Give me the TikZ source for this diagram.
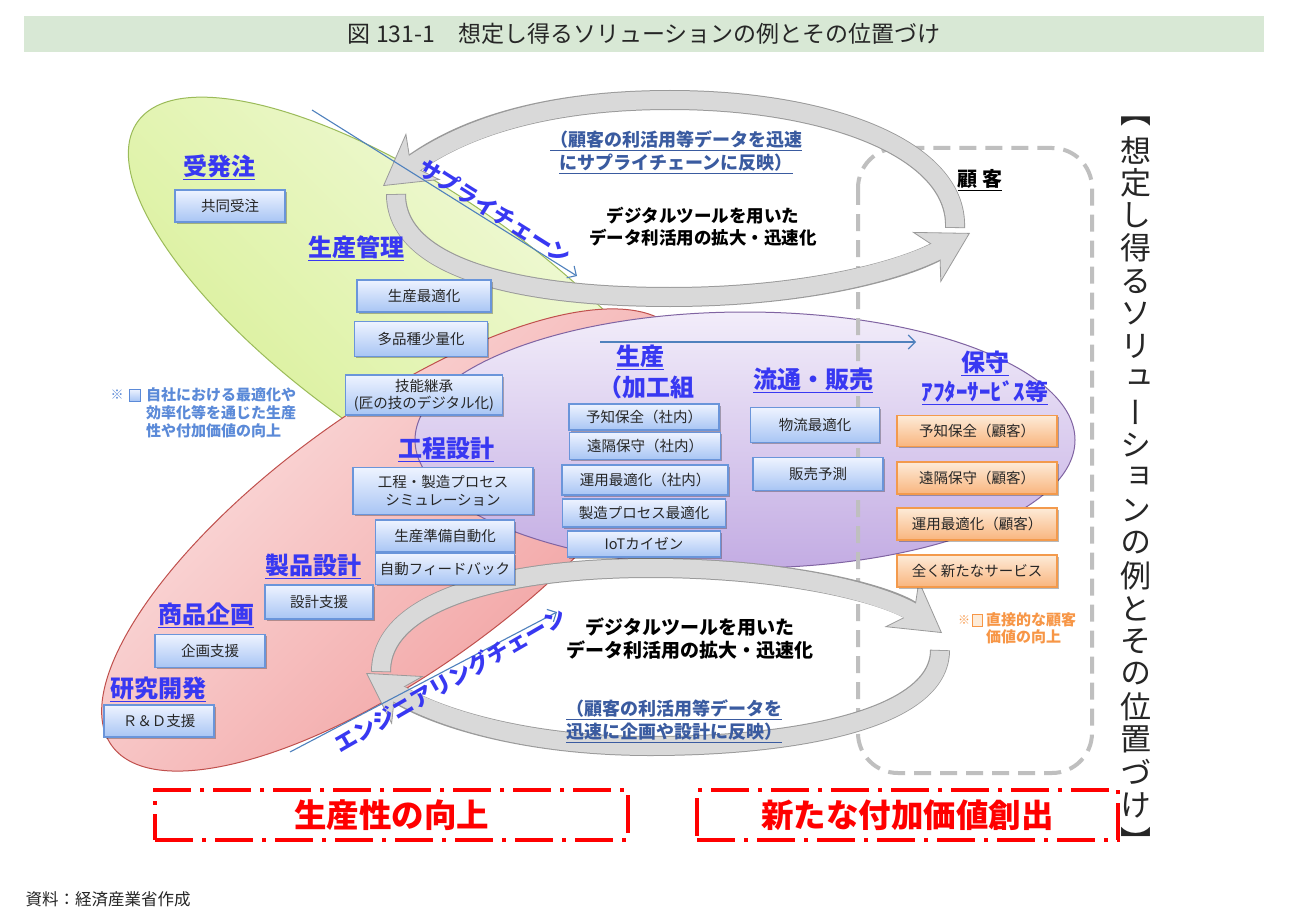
\documentclass[tikz,border=0pt]{standalone}
\usepackage{fontspec}
\setmainfont{Noto Sans CJK JP}
\newfontfamily\vfont[RawFeature=+vert]{Noto Sans CJK JP}
\usetikzlibrary{arrows.meta,shadows}
\newcommand\fsz[2]{\fontsize{#1}{#2}\selectfont}
\newcommand\hd[1]{\underline{#1}}
\definecolor{hblue}{HTML}{3838F2}
\definecolor{fbblue}{HTML}{3A5BA0}
\definecolor{noteblue}{HTML}{5B8AD8}
\definecolor{noteorange}{HTML}{F79646}
\definecolor{lineblue}{HTML}{4F81BD}
\definecolor{titlebg}{HTML}{D8E8D5}
\definecolor{bandfill}{HTML}{D9D9D9}
\definecolor{bandline}{HTML}{9A9A9A}
\definecolor{boxtop}{HTML}{EEF3FF}
\definecolor{boxbot}{HTML}{A8C5F4}
\definecolor{boxline}{HTML}{6A95DA}
\definecolor{otop}{HTML}{FDEBD8}
\definecolor{obot}{HTML}{F9B57E}
\definecolor{oline}{HTML}{F39A4C}
\definecolor{dashgray}{HTML}{BFBFBF}
\definecolor{textgray}{HTML}{262626}
\definecolor{gtop}{HTML}{F5FBE4}
\definecolor{gbot}{HTML}{D6EF90}
\definecolor{gline}{HTML}{9BBB59}
\definecolor{rtop}{HTML}{FCE6E6}
\definecolor{rbot}{HTML}{F09696}
\definecolor{rline}{HTML}{C0504D}
\definecolor{ptop}{HTML}{F2EDFA}
\definecolor{pbot}{HTML}{C3ACE3}
\definecolor{pline}{HTML}{8064A2}
\tikzset{
  bbox/.style={draw=boxline, line width=1.1pt, top color=boxtop, bottom color=boxbot,
    text=textgray, font=\fsz{14.5}{18}, inner sep=1pt, align=center,
    drop shadow={shadow xshift=1.5pt, shadow yshift=-1.8pt, opacity=0.28, fill=black}},
  obox/.style={bbox, draw=oline, top color=otop, bottom color=obot},
  hlabel/.style={text=hblue, font=\bfseries\fsz{24}{28}},
  chain/.style={text=hblue, font=\bfseries\fsz{22}{26}},
  fbtext/.style={text=fbblue, font=\bfseries\fsz{18}{23}, align=center},
  digtext/.style={text=black, font=\bfseries\fsz{17.5}{22}, align=center},
  outerband/.style={line width=20pt, draw=bandline,
    -{Stealth[length=50pt,width=58pt,inset=15pt,line width=0.8pt,fill=bandfill]}},
  innerband/.style={line width=18pt, draw=bandfill, shorten >=28pt, shorten <=0.8pt},
  thinarrow/.style={draw=lineblue, line width=1.1pt, -{Straight Barb[length=7pt,width=14pt]}},
  reddash/.style={draw=red, line width=3.5pt, dash pattern=on 38pt off 9pt on 4pt off 9pt,
    text=red, font=\bfseries\fsz{32.5}{36}},
  vtxt/.style={font=\vfont\fsz{31}{32}, text=textgray, inner sep=0pt},
  custbox/.style={draw=dashgray, line width=4pt, dash pattern=on 17pt off 9pt, rounded corners=40pt},
}
\begin{document}
\begin{tikzpicture}[x=1pt,y=-1pt]
\useasboundingbox (0,0) rectangle (1294,923);
\fill[white] (0,0) rectangle (1294,923);
% title and source
\fill[titlebg] (24,16) rectangle (1264,52);
\node[font=\fsz{23}{26}, text=textgray] (title) at (644,34) {図 131-1　想定し得るソリューションの例とその位置づけ};
\node[anchor=west, font=\fsz{16.5}{18}, text=textgray] (src) at (22,899) {資料：経済産業省作成};
% ellipses
\path[draw=gline, line width=1pt, top color=gtop, bottom color=gbot, shading angle=-45,
  rotate around={-35:(420,320)}] (420,320) ellipse [x radius=345, y radius=125];
\path[draw=rline, line width=1pt, top color=rtop, bottom color=rbot, shading angle=45,
  rotate around={36:(395,540)}] (395,540) ellipse [x radius=350, y radius=130];
\path[draw=pline, line width=1pt, top color=ptop, bottom color=pbot] (745,440) ellipse [x radius=330, y radius=128];
% customer area
\draw[custbox] (858,148) rectangle (1092,773);
\node[font=\bfseries\fsz{20}{24}, text=black] (cust) at (980,180) {\hd{顧 客}};
% big gray arrows
\coordinate (aS) at (955,228); \coordinate (aE) at (383,186);
\coordinate (bS) at (396,194); \coordinate (bE) at (970,233);
\coordinate (cS) at (381,672); \coordinate (cE) at (942,633);
\coordinate (dS) at (940,650); \coordinate (dE) at (366,673);
\draw[outerband] (aS) .. controls (958,150) and (830,100) .. (670,100) .. controls (560,100) and (470,122) .. (aE);
\draw[innerband] (aS) .. controls (958,150) and (830,100) .. (670,100) .. controls (560,100) and (470,122) .. (aE);
\draw[outerband] (bS) .. controls (396,265) and (510,297) .. (670,297) .. controls (800,297) and (900,272) .. (bE);
\draw[innerband] (bS) .. controls (396,265) and (510,297) .. (670,297) .. controls (800,297) and (900,272) .. (bE);
\draw[outerband] (cS) .. controls (381,598) and (510,568) .. (650,568) .. controls (790,568) and (890,595) .. (cE);
\draw[innerband] (cS) .. controls (381,598) and (510,568) .. (650,568) .. controls (790,568) and (890,595) .. (cE);
\draw[outerband] (dS) .. controls (940,718) and (800,746) .. (650,746) .. controls (520,746) and (430,715) .. (dE);
\draw[innerband] (dS) .. controls (940,718) and (800,746) .. (650,746) .. controls (520,746) and (430,715) .. (dE);
% thin blue arrows
\coordinate (s1) at (312,110); \coordinate (s2) at (577,276);
\coordinate (e1) at (290,752); \coordinate (e2) at (557,612);
\coordinate (p1) at (600,342); \coordinate (p2) at (916,342);
\draw[thinarrow] (s1) -- (s2);
\draw[thinarrow] (e1) -- (e2);
\draw[thinarrow] (p1) -- (p2);
\node[chain, rotate=-32] (sc) at (495,211) {サプライチェーン};
\node[chain, rotate=30] (ec) at (450,680) {エンジニアリングチェーン};
% texts in loops
\node[fbtext] (f1) at (676,152) {\hd{（顧客の利活用等データを迅速}\\\hd{にサプライチェーンに反映）}};
\node[digtext] (d1) at (703,227) {デジタルツールを用いた\\データ利活用の拡大・迅速化};
\node[digtext, font=\bfseries\fsz{19}{23}] (d2) at (690,639) {デジタルツールを用いた\\データ利活用の拡大・迅速化};
\node[fbtext] (f2) at (674,721) {\hd{（顧客の利活用等データを}\\\hd{迅速に企画や設計に反映）}};
% headings
\node[hlabel] (h1) at (219,167) {\hd{受発注}};
\node[hlabel] (h2) at (356,248) {\hd{生産管理}};
\node[hlabel] (h3) at (446,449) {\hd{工程設計}};
\node[hlabel] (h4) at (313,566) {\hd{製品設計}};
\node[hlabel] (h5) at (206,615) {\hd{商品企画}};
\node[hlabel] (h6) at (158,689) {\hd{研究開発}};
\node[hlabel] (h7) at (640,357) {\hd{生産}};
\node[hlabel] (h8) at (646,387) {（加工組};
\node[hlabel] (h9) at (813,380) {\hd{流通・販売}};
\node[hlabel] (h10) at (985,363) {\hd{保守}};
\node[hlabel, font=\bfseries\fsz{23}{26}] (h11) at (985,393) {\hd{ｱﾌﾀｰｻｰﾋﾞｽ等}};
% blue boxes
\node[bbox, minimum width=110pt, minimum height=32pt] (b1) at (230,206) {共同受注};
\node[bbox, minimum width=134pt, minimum height=32pt] (b2) at (424,296) {生産最適化};
\node[bbox, minimum width=133pt, minimum height=35pt] (b3) at (421,339) {多品種少量化};
\node[bbox, minimum width=157pt, minimum height=40pt, font=\fsz{14.5}{17}] (b4) at (424,395) {技能継承\\(匠の技のデジタル化)};
\node[bbox, minimum width=180pt, minimum height=47pt, font=\fsz{14.5}{18}] (b5) at (443,491) {工程・製造プロセス\\シミュレーション};
\node[bbox, minimum width=139pt, minimum height=32pt] (b6) at (445,536) {生産準備自動化};
\node[bbox, minimum width=139pt, minimum height=31pt] (b7) at (445,569) {自動フィードバック};
\node[bbox, minimum width=108pt, minimum height=34pt] (b8) at (319,602) {設計支援};
\node[bbox, minimum width=110pt, minimum height=33pt] (b9) at (210,651) {企画支援};
\node[bbox, minimum width=110pt, minimum height=32pt] (b10) at (159,721) {Ｒ＆Ｄ支援};
\node[bbox, minimum width=150pt, minimum height=26pt] (b11) at (644,417) {予知保全（社内）};
\node[bbox, minimum width=151pt, minimum height=27pt] (b12) at (645,446) {遠隔保守（社内）};
\node[bbox, minimum width=166pt, minimum height=30pt] (b13) at (645,480) {運用最適化（社内）};
\node[bbox, minimum width=163pt, minimum height=28pt] (b14) at (644,513) {製造プロセス最適化};
\node[bbox, minimum width=153pt, minimum height=26pt] (b15) at (644,544) {IoTカイゼン};
\node[bbox, minimum width=129pt, minimum height=35pt] (b16) at (815,425) {物流最適化};
\node[bbox, minimum width=130pt, minimum height=33pt] (b17) at (818,474) {販売予測};
% orange boxes
\node[obox, minimum width=160pt, minimum height=31pt] (o1) at (977,431) {予知保全（顧客）};
\node[obox, minimum width=160pt, minimum height=32pt] (o2) at (977,478) {遠隔保守（顧客）};
\node[obox, minimum width=160pt, minimum height=32pt] (o3) at (977,524) {運用最適化（顧客）};
\node[obox, minimum width=160pt, minimum height=32pt] (o4) at (977,571) {全く新たなサービス};
% notes
\node[text=noteblue, font=\fsz{13}{16}, inner sep=0pt] (n1s) at (117,395) {※};
\node[draw=noteblue, line width=1pt, top color=boxtop, bottom color=boxbot, minimum width=11pt, minimum height=12pt, inner sep=0pt] (n1b) at (135,395) {};
\node[anchor=north west, align=left, text=noteblue, font=\bfseries\fsz{15}{18}, inner sep=0pt] (n1) at (146,387) {自社における最適化や\\効率化等を通じた生産\\性や付加価値の向上};
\node[text=noteorange, font=\fsz{12}{14}, inner sep=0pt] (n2s) at (964,620) {※};
\node[draw=noteorange, line width=1pt, fill=otop, minimum width=10pt, minimum height=12pt, inner sep=0pt] (n2b) at (977,620) {};
\node[anchor=north west, align=left, text=noteorange, font=\bfseries\fsz{15}{17}, inner sep=0pt] (n2) at (986,612) {直接的な顧客\\価値の向上};
% red boxes
\node[reddash, minimum width=473pt, minimum height=50pt] (r1) at (391.5,815) {生産性の向上};
\node[reddash, minimum width=421pt, minimum height=50pt] (r2) at (907.5,815) {新たな付加価値創出};
% vertical title
\node[vtxt, font=\fsz{31}{32}] (vopen) at (1136,122) {︻};
\foreach \ch [count=\i from 2] in {想,定,し,得,る,ソ,リ,ュ,ー,シ,ョ,ン,の,例,と,そ,の,位,置,づ,け}
  \node[vtxt] (v\i) at (1136,84.5+32.75*\i) {\ch};
\node[vtxt, font=\fsz{31}{32}] (vclose) at (1136,840) {︼};
\end{tikzpicture}
\end{document}
